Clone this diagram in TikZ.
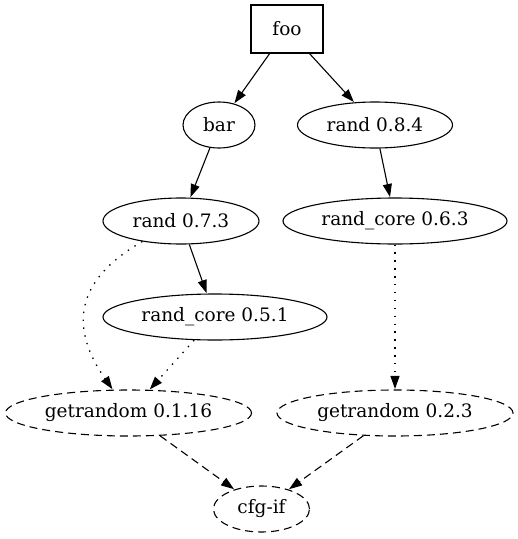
\documentclass[tikz,border=0pt]{standalone}
\usepackage{fontspec}
\setmainfont{DejaVu Serif}
\usetikzlibrary{shapes.geometric,arrows.meta}
\begin{document}
\begin{tikzpicture}[x=1pt,y=-1pt,
  every node/.style={font=\fontsize{18.5}{22}\selectfont, inner sep=0pt, line width=1.1pt},
  ell/.style={draw, ellipse, minimum height=46pt},
  dep/.style={draw, line width=1.1pt, -{Triangle[length=13pt,width=9pt]}, shorten >=0.5pt},
  dotdep/.style={dep, line width=1.3pt, dash pattern=on 1.4pt off 6.5pt},
  dashdep/.style={dep, dash pattern=on 8pt off 5pt},
  dashell/.style={ell, dash pattern=on 8pt off 5pt}]
\useasboundingbox (0,0) rectangle (518,539);
\node[draw, rectangle, minimum width=72pt, minimum height=48pt] (foo) at (287,29) {foo};
\node[ell, minimum width=72pt] (bar) at (219,125) {bar};
\node[ell, minimum width=155pt] (r084) at (375,125) {rand 0.8.4};
\node[ell, minimum width=156pt] (r073) at (181,221) {rand 0.7.3};
\node[ell, minimum width=224pt] (rc063) at (395,221) {rand\_core 0.6.3};
\node[ell, minimum width=224pt] (rc051) at (215,317) {rand\_core 0.5.1};
\node[dashell, minimum width=246pt] (g0116) at (128.5,413) {getrandom 0.1.16};
\node[dashell, minimum width=236pt] (g023) at (395,413) {getrandom 0.2.3};
\node[dashell, minimum width=96pt] (cfg) at (261.5,509) {cfg-if};
\draw[dep] (foo) -- (bar);
\draw[dep] (foo) -- (r084);
\draw[dep] (bar) -- (r073);
\draw[dep] (r084) -- (rc063);
\draw[dep] (r073) -- (rc051);
\draw[dotdep] (r073.208) .. controls +(-70,40) and +(-42,-60) .. (g0116.124);
\draw[dotdep] (rc051) -- (g0116);
\draw[dotdep] (rc063) -- (g023);
\draw[dashdep] (g0116) -- (cfg);
\draw[dashdep] (g023) -- (cfg);
\end{tikzpicture}
\end{document}
